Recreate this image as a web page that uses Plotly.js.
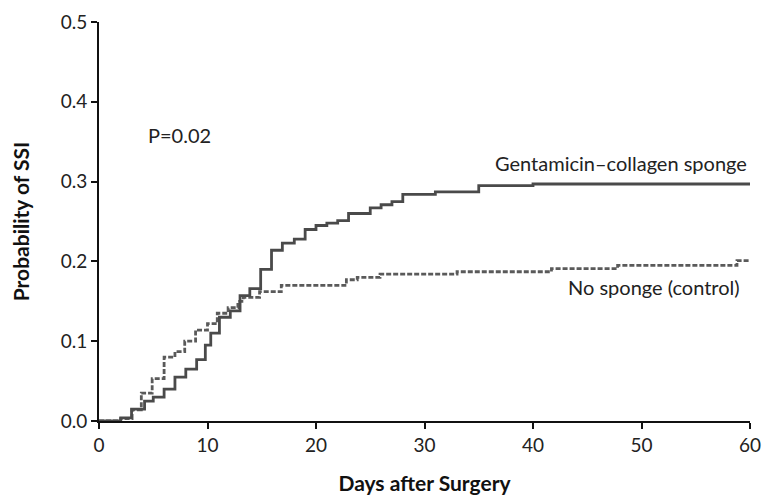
<!DOCTYPE html>
<html>
<head>
<meta charset="utf-8">
<script src="https://cdn.plot.ly/plotly-3.0.1.min.js"></script>
<style>html,body{margin:0;padding:0;background:#fff;}#chart{width:763px;height:497px;}</style>
</head>
<body>
<div id="chart"></div>
<script>
// Gentamicin–collagen sponge (solid) — cumulative probability of SSI
const gentDays = [0, 2, 3, 4.2, 5, 6, 7, 8, 9, 9.8, 10.3, 11.1, 12.1, 13, 13.9, 14.9, 15.9, 16.9, 18, 19, 20, 21, 22, 23, 25, 26, 27, 28, 31, 35, 40, 60];
const gentProb = [0, 0.004, 0.015, 0.025, 0.030, 0.040, 0.055, 0.065, 0.077, 0.095, 0.110, 0.130, 0.138, 0.157, 0.166, 0.190, 0.214, 0.223, 0.228, 0.240, 0.245, 0.248, 0.251, 0.260, 0.267, 0.271, 0.275, 0.284, 0.287, 0.295, 0.297, 0.297];
// No sponge (control) (dashed)
const ctrlDays = [0, 2, 3.05, 3.9, 4.9, 6, 7, 7.9, 8.9, 10, 10.9, 11.9, 12.8, 13.3, 14.8, 16.8, 22.8, 23.8, 25.9, 33, 41.7, 47.8, 58.8, 60];
const ctrlProb = [0, 0.003, 0.014, 0.035, 0.053, 0.080, 0.087, 0.100, 0.114, 0.122, 0.135, 0.142, 0.150, 0.155, 0.162, 0.170, 0.177, 0.180, 0.184, 0.187, 0.191, 0.195, 0.201, 0.201];

const xTicks = [0, 10, 20, 30, 40, 50, 60];
const yTicks = [0, 0.1, 0.2, 0.3, 0.4, 0.5];
const yTickText = ["0.0", "0.1", "0.2", "0.3", "0.4", "0.5"];

const FONT = "Lato, 'Open Sans', sans-serif";

const traces = [
  {
    x: ctrlDays, y: ctrlProb, mode: 'lines', name: 'No sponge (control)',
    line: {shape: 'hv', color: '#5a5a5a', width: 2.8, dash: '5px,2px'}
  },
  {
    x: gentDays, y: gentProb, mode: 'lines', name: 'Gentamicin–collagen sponge',
    line: {shape: 'hv', color: '#4a4a4a', width: 2.8}
  }
];

const layout = {
  width: 763, height: 497,
  margin: {l: 98.5, r: 13, t: 21.5, b: 75.5},
  paper_bgcolor: '#fff', plot_bgcolor: '#fff',
  showlegend: false,
  font: {family: FONT, size: 19, color: '#222'},
  xaxis: {
    range: [0, 60], tickvals: xTicks, ticktext: xTicks.map(String),
    showgrid: false, zeroline: false,
    showline: true, linecolor: '#111', linewidth: 2,
    ticks: 'outside', ticklen: 6, tickwidth: 2, tickcolor: '#111',
    tickfont: {family: FONT, size: 19, color: '#222'},
    title: {text: 'Days after Surgery', font: {family: FONT, size: 21, color: '#111', weight: 'bold'}, standoff: 22}
  },
  yaxis: {
    range: [0, 0.5], tickvals: yTicks, ticktext: yTickText,
    showgrid: false, zeroline: false,
    showline: true, linecolor: '#111', linewidth: 2,
    ticks: 'outside', ticklen: 6, tickwidth: 2, tickcolor: '#111',
    tickfont: {family: FONT, size: 19, color: '#222'},
    title: {text: 'Probability of SSI', font: {family: FONT, size: 21, color: '#111', weight: 'bold'}, standoff: 25}
  },
  annotations: [
    {x: 4.3, y: 0.358, xref: 'x', yref: 'y', text: 'P=0.02', showarrow: false, xanchor: 'left', yanchor: 'middle', font: {family: FONT, size: 20, color: '#222'}},
    {x: 59.9, y: 0.323, xref: 'x', yref: 'y', text: 'Gentamicin–collagen sponge', showarrow: false, xanchor: 'right', yanchor: 'middle', font: {family: FONT, size: 20, color: '#222'}},
    {x: 59.3, y: 0.168, xref: 'x', yref: 'y', text: 'No sponge (control)', showarrow: false, xanchor: 'right', yanchor: 'middle', font: {family: FONT, size: 20, color: '#222'}}
  ]
};

Plotly.newPlot('chart', traces, layout, {staticPlot: true, displayModeBar: false});
</script>
</body>
</html>
